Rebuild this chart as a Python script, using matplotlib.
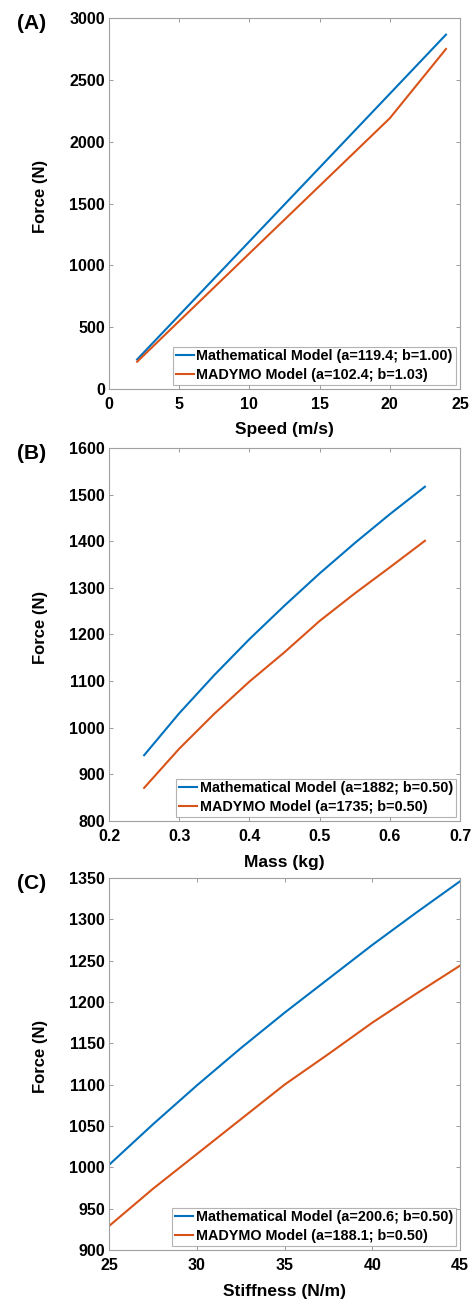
import matplotlib
matplotlib.use("Agg")
import matplotlib.pyplot as plt

plt.rcParams['font.family'] = ['Liberation Sans', 'DejaVu Sans']
plt.rcParams['font.weight'] = 'bold'

BLUE = "#0072BD"
ORANGE = "#D95319"

# (A) force vs speed
speed = [2, 5, 10, 15, 20, 24]
speed_math = [239, 597, 1194, 1791, 2388, 2866]
speed_madymo = [221, 550, 1097, 1643, 2190, 2750]

# (B) force vs mass
mass = [0.25, 0.30, 0.35, 0.40, 0.45, 0.50, 0.55, 0.60, 0.65]
mass_math = [941, 1031, 1113, 1190, 1262, 1331, 1396, 1458, 1517]
mass_madymo = [871, 955, 1030, 1099, 1162, 1229, 1288, 1344, 1401]

# (C) force vs stiffness
stiff = [25, 27.5, 30, 32.5, 35, 37.5, 40, 42.5, 45]
stiff_math = [1003, 1052, 1099, 1144, 1187, 1228, 1269, 1308, 1346]
stiff_madymo = [929, 974, 1016, 1058, 1100, 1137, 1175, 1210, 1244]

panels = [
    ("(A)", speed, speed_math, speed_madymo, "Speed (m/s)",
     (0, 25), range(0, 26, 5), (0, 3000), range(0, 3001, 500),
     ["Mathematical Model (a=119.4; b=1.00)", "MADYMO Model (a=102.4; b=1.03)"],
     [0.2300, 0.7005, 0.7405, 0.2856]),
    ("(B)", mass, mass_math, mass_madymo, "Mass (kg)",
     (0.2, 0.7), [0.2, 0.3, 0.4, 0.5, 0.6, 0.7], (800, 1600), range(800, 1601, 100),
     ["Mathematical Model (a=1882; b=0.50)", "MADYMO Model (a=1735; b=0.50)"],
     [0.2300, 0.3680, 0.7405, 0.2871]),
    ("(C)", stiff, stiff_math, stiff_madymo, "Stiffness (N/m)",
     (25, 45), range(25, 46, 5), (900, 1350), range(900, 1351, 50),
     ["Mathematical Model (a=200.6; b=0.50)", "MADYMO Model (a=188.1; b=0.50)"],
     [0.2300, 0.0377, 0.7405, 0.2864]),
]

fig = plt.figure(figsize=(4.74, 12.99), dpi=100)

for tag, x, ym, yd, xlabel, xlim, xticks, ylim, yticks, labels, pos in panels:
    ax = fig.add_axes(pos)
    ax.plot(x, ym, color=BLUE, linewidth=1.5, label=labels[0])
    ax.plot(x, yd, color=ORANGE, linewidth=1.5, label=labels[1])
    ax.set_xlim(*xlim)
    ax.set_ylim(*ylim)
    ax.set_xticks(list(xticks))
    ax.set_yticks(list(yticks))
    if tag == "(B)":
        ax.set_xticklabels(["0.2", "0.3", "0.4", "0.5", "0.6", "0.7"])
    ax.tick_params(axis="x", pad=6)
    ax.tick_params(axis="y", pad=3)
    ax.tick_params(direction="in", top=True, right=True, length=3,
                   width=0.6, color="#8a8a8a", labelsize=11.5)
    for lab in ax.get_xticklabels() + ax.get_yticklabels():
        lab.set_fontweight("bold")
    for sp in ax.spines.values():
        sp.set_color("#a0a0a0")
        sp.set_linewidth(0.8)
    ax.set_xlabel(xlabel, fontsize=12.5, fontweight="bold")
    ax.set_ylabel("Force (N)", fontsize=12, fontweight="bold")
    ax.xaxis.set_label_coords(0.5, -0.09)
    ax.yaxis.set_label_coords(-0.175, 0.52)
    leg = ax.legend(loc="lower right", fontsize=10.4, frameon=True, fancybox=False,
                    handlelength=1.25, handletextpad=0.15, borderpad=0.2,
                    labelspacing=0.3, borderaxespad=0.3)
    leg.get_frame().set_edgecolor("#a0a0a0")
    leg.get_frame().set_linewidth(0.8)
    for t in leg.get_texts():
        t.set_fontweight("bold")
    ax.text(-0.222, 0.985, tag, transform=ax.transAxes, fontsize=15,
            fontweight="bold", ha="center", va="center")

fig.savefig("out.png", dpi=100)
